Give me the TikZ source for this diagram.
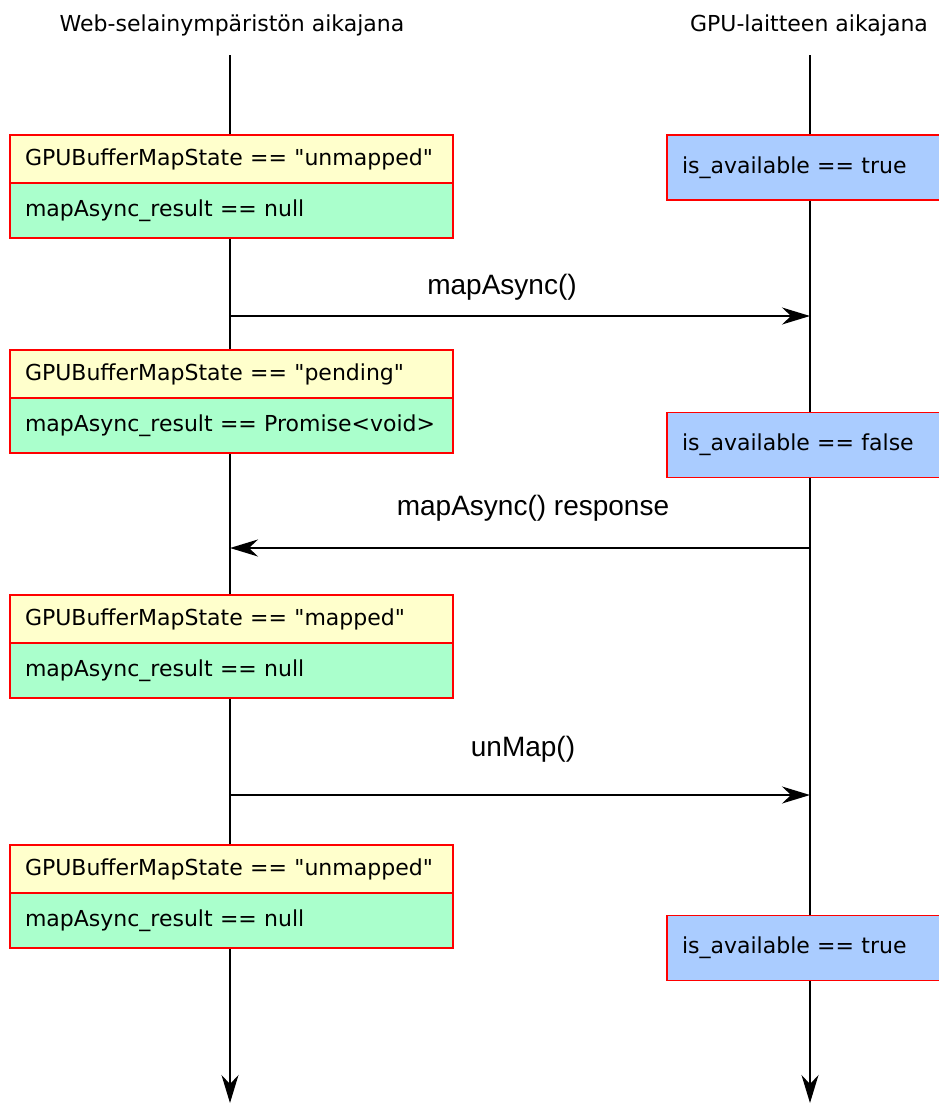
\documentclass[tikz,border=0pt]{standalone}
\usepackage{fontspec}
\setmainfont{DejaVu Sans}[Ligatures=TeXOff]
\newfontfamily\msgfont{Liberation Sans}
\usetikzlibrary{arrows.meta}
\definecolor{stateyellow}{HTML}{FFFFCC}
\definecolor{resultgreen}{HTML}{AAFFCC}
\definecolor{gpublue}{HTML}{AACCFF}
\tikzset{
	lifeline/.style={line width=1.6pt, -{Stealth[length=28pt, width=17pt, inset=9pt]}},
	msgarrow/.style={line width=1.6pt, -{Stealth[length=28pt, width=17pt, inset=9pt]}},
	rowbox/.style={draw=red, line width=1.6pt, minimum width=443pt, text width=413pt, inner xsep=15pt, align=left, font=\fontsize{22}{26}\selectfont},
	statebox/.style={rowbox, fill=stateyellow, minimum height=48pt},
	resultbox/.style={rowbox, fill=resultgreen, minimum height=55pt},
	gpubox/.style={draw=red, line width=1.6pt, fill=gpublue, minimum width=283pt, text width=253pt, inner xsep=15pt, align=left, minimum height=65pt, font=\fontsize{22}{26}\selectfont},
	titletext/.style={font=\fontsize{22}{26}\selectfont},
	msgtext/.style={font=\msgfont\fontsize{28}{32}\selectfont}
}

\begin{document}
\begin{tikzpicture}[x=1pt, y=-1pt]
			%%%%% START %%%%%
			\useasboundingbox (0, 0) rectangle (939, 1104);
			\clip (0, 0) rectangle (939, 1104);
			
			\node[titletext] (webtitle) at (232, 25) {Web-selainympäristön aikajana};
			\node[titletext] (gputitle) at (809, 25) {GPU-laitteen aikajana};
			
			\coordinate (webtop) at (230, 55);
			\coordinate (webend) at (230, 1103);
			\coordinate (gputop) at (810, 55);
			\coordinate (gpuend) at (810, 1103);
			\draw[lifeline] (webtop) -- (webend);
			\draw[lifeline] (gputop) -- (gpuend);
			
			% selaimen tilat
			\node[statebox] (state1) at (231.5, 159) {GPUBufferMapState == "unmapped"};
			\node[resultbox] (result1) at (231.5, 210.5) {mapAsync\_result == null};
			\node[statebox] (state2) at (231.5, 374) {GPUBufferMapState == "pending"};
			\node[resultbox] (result2) at (231.5, 425.5) {mapAsync\_result == Promise<void>};
			\node[statebox] (state3) at (231.5, 619) {GPUBufferMapState == "mapped"};
			\node[resultbox] (result3) at (231.5, 670.5) {mapAsync\_result == null};
			\node[statebox] (state4) at (231.5, 869) {GPUBufferMapState == "unmapped"};
			\node[resultbox] (result4) at (231.5, 920.5) {mapAsync\_result == null};
			
			% GPU:n tilat
			\node[gpubox] (avail1) at (808.5, 167.5) {is\_available == true};
			\node[gpubox] (avail2) at (808.5, 445) {is\_available == false};
			\node[gpubox] (avail3) at (808.5, 948) {is\_available == true};
			
			% viestit
			\coordinate (web1) at (230, 316);
			\coordinate (gpu1) at (810, 316);
			\draw[msgarrow] (web1) -- (gpu1);
			\node[msgtext] (mapcall) at (502, 287) {mapAsync()};
			
			\coordinate (gpu2) at (810, 548);
			\coordinate (web2) at (230, 548);
			\draw[msgarrow] (gpu2) -- (web2);
			\node[msgtext] (mapresp) at (533, 508) {mapAsync() response};
			
			\coordinate (web3) at (230, 795);
			\coordinate (gpu3) at (810, 795);
			\draw[msgarrow] (web3) -- (gpu3);
			\node[msgtext] (unmapcall) at (523, 749) {unMap()};
			%%%%% END %%%%%
\end{tikzpicture}
\end{document}
